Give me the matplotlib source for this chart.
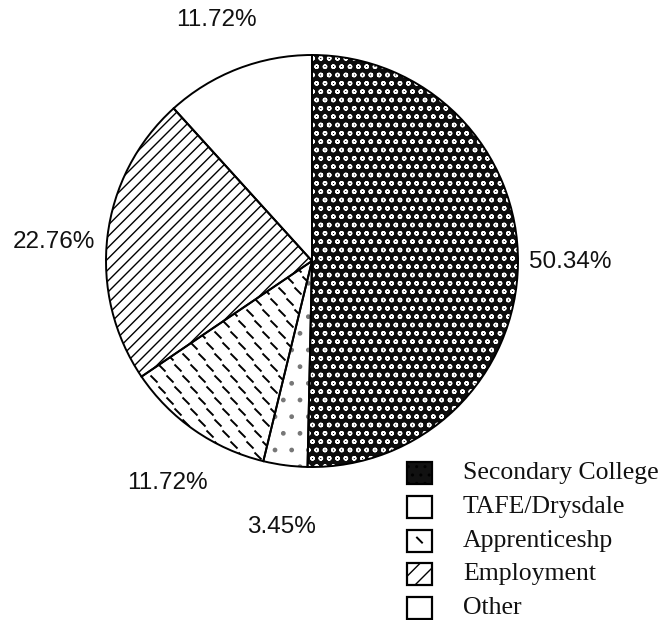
import numpy as np
import matplotlib
matplotlib.use('Agg')
import matplotlib.pyplot as plt
from matplotlib.patches import Rectangle
from matplotlib.collections import LineCollection

# data
categories = ['Secondary College', 'TAFE/Drysdale', 'Apprenticeshp', 'Employment', 'Other']
shares     = [50.34, 3.45, 11.72, 22.76, 11.72]
pct_labels = ['50.34%', '3.45%', '11.72%', '22.76%', '11.72%']

# layout in pixel units (y measured from the top of the image)
W, H = 663, 620
CX, CY, R = 312, H - 261, 206
label_pos = [(570, 262), (281, 527), (167, 483), (54, 242), (216, 20)]

fig = plt.figure(figsize=(W / 100, H / 100), dpi=100)
ax = fig.add_axes([0, 0, 1, 1])

fills      = ['#0d0d0d', 'white', 'white', 'white', 'white']
hatches    = ['oo', '.', None, '///', None]
hatch_cols = ['white', '#777777', 'black', 'black', 'black']

wedges, _ = ax.pie(shares, startangle=90, counterclock=False,
                   center=(CX, CY), radius=R, colors=fills,
                   wedgeprops=dict(linewidth=0))
for w, h, hc in zip(wedges, hatches, hatch_cols):
    if h:
        w.set_hatch(h)
        w.set_edgecolor(hc)

# short dash texture for the apprenticeship slice
xs = np.arange(CX - R, CX + R, 16)
ys = np.arange(CY - R, CY + R, 11)
segs = []
for j, y in enumerate(ys):
    off = 8 if j % 2 else 0
    for x in xs + off:
        segs.append([(x - 3.5, y + 3.5), (x + 3.5, y - 3.5)])
lc = LineCollection(segs, colors='black', linewidths=1.4)
ax.add_collection(lc)
lc.set_clip_path(wedges[2])

# slice outlines
ax.pie(shares, startangle=90, counterclock=False, center=(CX, CY), radius=R,
       colors=['none'] * len(shares),
       wedgeprops=dict(linewidth=1.4, edgecolor='black'))

for txt, (px, py) in zip(pct_labels, label_pos):
    ax.text(px, H - py, txt, ha='center', va='center', fontsize=17.5,
            family='Liberation Sans', color='#111111')

# legend drawn by hand to copy the boxed swatches
leg_fill  = ['#111111', 'white', 'white', 'white', 'white']
leg_hatch = ['..', None, None, '//', None]
for i, (name, fc, hh) in enumerate(zip(categories, leg_fill, leg_hatch)):
    y = H - (473 + i * 33.8)
    box = Rectangle((407, y - 11), 25, 22, facecolor=fc, edgecolor='black',
                    linewidth=1.6, hatch=hh)
    ax.add_patch(box)
    if name == 'Apprenticeshp':
        ax.plot([417, 422], [y + 3, y - 2], color='black', lw=1.4)
    ax.text(463, y, name, ha='left', va='center', fontsize=18.5,
            family='Liberation Serif', color='#111111')

ax.set_xlim(0, W)
ax.set_ylim(0, H)
ax.set_aspect('equal')
ax.axis('off')

fig.savefig('out.png', dpi=100)
